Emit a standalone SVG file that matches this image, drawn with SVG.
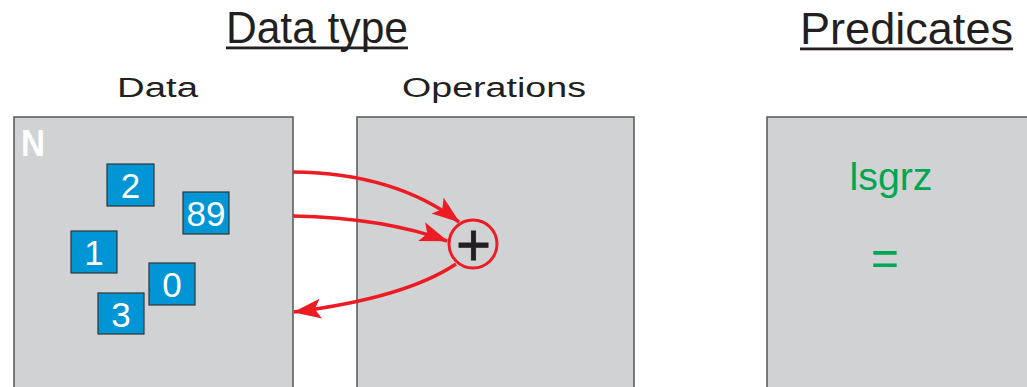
<svg xmlns="http://www.w3.org/2000/svg" width="1027" height="387" viewBox="0 0 1027 387">
<style>
.panel{fill:#d1d2d4;stroke:#555;stroke-width:1.5}
.num rect{fill:#0096d6;stroke:#333;stroke-width:1.2}
.num text{fill:#fff;font-family:"Liberation Sans",Arial,sans-serif;font-size:35px;text-anchor:middle}
.title{font-family:"Liberation Sans",Arial,sans-serif;fill:#231f20;font-size:44px}
.sub{font-family:"Liberation Sans",Arial,sans-serif;fill:#231f20;font-size:27px}
.pred{font-family:"Liberation Sans",Arial,sans-serif;fill:#00a651;text-anchor:middle}
.arrow{fill:none;stroke:#ed1c24;stroke-width:3.5}
</style>
<defs>
<marker id="ah" viewBox="0 0 28 20" refX="27" refY="10" markerWidth="28" markerHeight="20" markerUnits="userSpaceOnUse" orient="auto">
<path d="M0,0 L28,10 L0,20 L6,10 Z" fill="#ed1c24"/>
</marker>
</defs>
<rect width="1027" height="387" fill="#fff"/>
<g id="title-datatype">
<text class="title" x="226" y="43" textLength="182" lengthAdjust="spacingAndGlyphs">Data type</text>
<rect x="226" y="46.5" width="182" height="2.8" fill="#231f20"/>
</g>
<g id="title-predicates">
<text class="title" x="800" y="44" textLength="213" lengthAdjust="spacingAndGlyphs">Predicates</text>
<rect x="800" y="47.5" width="213" height="2.8" fill="#231f20"/>
</g>
<g id="data">
<text class="sub" x="117" y="97" textLength="81" lengthAdjust="spacingAndGlyphs">Data</text>
<rect class="panel" x="14" y="117" width="279" height="290"/>
<text x="21" y="156" font-family="Liberation Sans,Arial,sans-serif" font-weight="bold" font-size="36" fill="#fff" textLength="24" lengthAdjust="spacingAndGlyphs">N</text>
</g>
<g id="n2" class="num"><rect x="107" y="164" width="47" height="42"/><text x="130.5" y="198">2</text></g>
<g id="n89" class="num"><rect x="183" y="192" width="46" height="42"/><text x="206" y="226">89</text></g>
<g id="n1" class="num"><rect x="71" y="231" width="46" height="42"/><text x="94" y="265">1</text></g>
<g id="n0" class="num"><rect x="149" y="263" width="46" height="42"/><text x="172" y="297">0</text></g>
<g id="n3" class="num"><rect x="98" y="293" width="46" height="41"/><text x="121" y="327">3</text></g>
<g id="operations">
<text class="sub" x="402" y="97" textLength="184" lengthAdjust="spacingAndGlyphs">Operations</text>
<rect class="panel" x="357" y="117" width="277" height="290"/>
</g>
<g id="plus">
<circle cx="473" cy="244" r="24" fill="#d1d2d4" stroke="#ed1c24" stroke-width="3"/>
<text x="473.5" y="265" font-family="Liberation Sans,Arial,sans-serif" font-size="60" fill="#231f20" stroke="#231f20" stroke-width="0.8" text-anchor="middle">+</text>
</g>
<g id="predicates">
<rect class="panel" x="767" y="117" width="280" height="290"/>
<text class="pred" x="891" y="190" font-size="38" textLength="83" lengthAdjust="spacingAndGlyphs">lsgrz</text>
<text class="pred" x="885" y="275" font-size="50" textLength="28" lengthAdjust="spacingAndGlyphs">=</text>
</g>
<g id="connectors">
<path class="arrow" d="M293,172 Q395,173 459,222" marker-end="url(#ah)"/>
<path class="arrow" d="M293,216 Q385,218 447,241" marker-end="url(#ah)"/>
<path class="arrow" d="M456,264 Q405,298 294,312" marker-end="url(#ah)"/>
</g>
</svg>
